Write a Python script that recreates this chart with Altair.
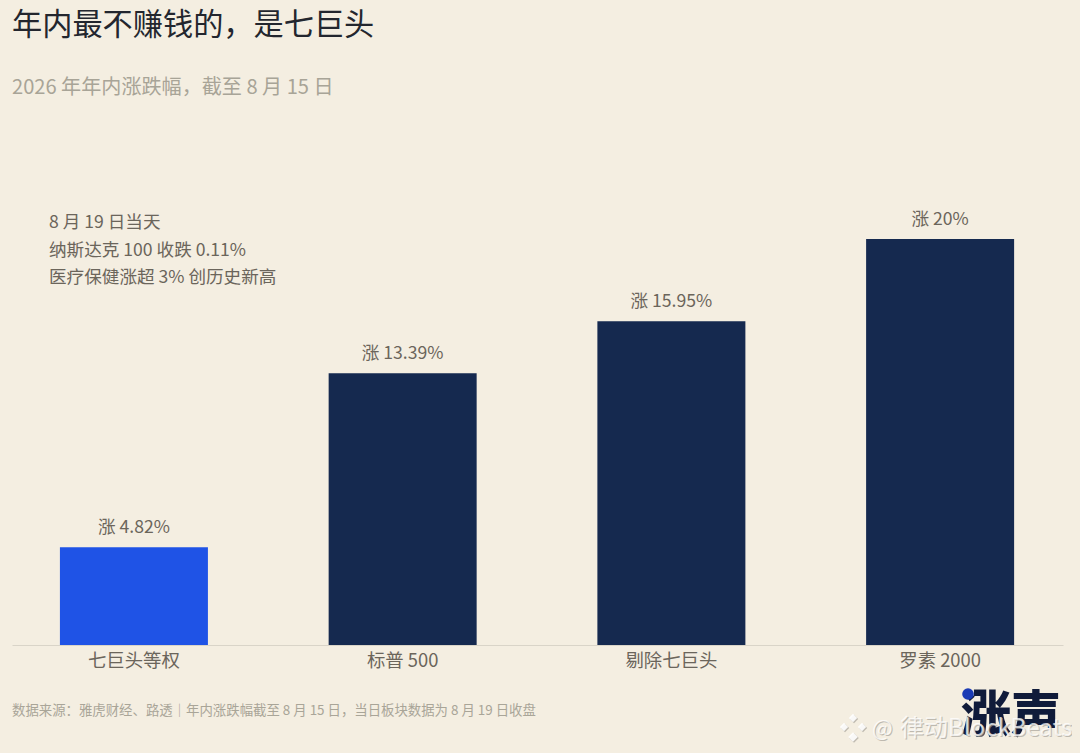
import altair as alt
import pandas as pd

FONT = "Noto Sans CJK SC"
BG = "#F4EEE1"

categories = ["七巨头等权", "标普 500", "剔除七巨头", "罗素 2000"]
values = [4.82, 13.39, 15.95, 20]
value_labels = ["涨 4.82%", "涨 13.39%", "涨 15.95%", "涨 20%"]
bar_colors = ["#1F53E6", "#15294F", "#15294F", "#15294F"]
note_lines = ["8 月 19 日当天", "纳斯达克 100 收跌 0.11%", "医疗保健涨超 3% 创历史新高"]
source_text = "数据来源：雅虎财经、路透｜年内涨跌幅截至 8 月 15 日，当日板块数据为 8 月 19 日收盘"
title_text = "年内最不赚钱的，是七巨头"
subtitle_text = "2026 年年内涨跌幅，截至 8 月 15 日"
logo_text = "涨声"
watermark_text = "律动BlockBeats"

df = pd.DataFrame({"cat": categories, "val": values, "label": value_labels, "color": bar_colors})

x = alt.X("cat:N", sort=categories,
          scale=alt.Scale(paddingInner=0.449, paddingOuter=0.18, align=0.495),
          axis=alt.Axis(title=None, labelAngle=0, labelFont=FONT, labelFontSize=18.4,
                        labelColor="#6B655B", labelPadding=6, ticks=False,
                        domainColor="#D9D4C8", domainWidth=1))
y = alt.Y("val:Q", scale=alt.Scale(domain=[0, 25.37], nice=False), axis=None)

bars = alt.Chart(df).mark_bar(size=148).encode(x=x, y=y, color=alt.Color("color:N", scale=None))
labels = alt.Chart(df).mark_text(font=FONT, fontSize=17.6, color="#6B655B", baseline="bottom", dy=-10).encode(
    x=x, y=y, text="label:N")


def text_at(t, px, py, **kw):
    return alt.Chart(pd.DataFrame({"t": [t]})).mark_text(font=FONT, align=kw.pop("align", "left"), baseline="middle", **kw).encode(
        x=alt.value(px), y=alt.value(py), text="t:N")


notes = [text_at(line, 37, 93 + i * 27.5, fontSize=17.6, color="#6B655B") for i, line in enumerate(note_lines)]
source = text_at(source_text, 0, 581, fontSize=13.4, color="#A9A598")
logo = text_at(logo_text, 949, 587, fontSize=50, fontWeight=900, color="#101B3A")
dot = alt.Chart(pd.DataFrame({"a": [1]})).mark_point(filled=True, size=135, color="#1B3BB5", opacity=1).encode(
    x=alt.value(956), y=alt.value(564))
wm_shadow = text_at(watermark_text, 889, 600, fontSize=24, color="#A8A49B", opacity=0.7)
wm = text_at(watermark_text, 888, 599, fontSize=24, color="#FFFFFF", opacity=0.75)
at_shadow = text_at("@", 861, 600, fontSize=22, color="#A8A49B", opacity=0.7)
at = text_at("@", 860, 599, fontSize=22, color="#FFFFFF", opacity=0.75)
diamond_shadow = alt.Chart(pd.DataFrame({"dx": [842, 833, 851, 842], "dy": [589, 598, 598, 608], "s": [70, 70, 70, 90]})).mark_point(
    shape="diamond", filled=True, color="#A8A49B", opacity=0.7).encode(
    x=alt.X("dx:Q", scale=None), y=alt.Y("dy:Q", scale=None), size=alt.Size("s:Q", scale=None))
diamond = alt.Chart(pd.DataFrame({"dx": [841, 832, 850, 841], "dy": [588, 597, 597, 607], "s": [70, 70, 70, 90]})).mark_point(
    shape="diamond", filled=True, color="#FFFFFF", opacity=0.9).encode(
    x=alt.X("dx:Q", scale=None), y=alt.Y("dy:Q", scale=None), size=alt.Size("s:Q", scale=None))

chart = alt.layer(bars, labels, *notes, source, logo, dot, at_shadow, at, wm_shadow, wm, diamond_shadow, diamond).properties(
    width=1051, height=515, background=BG,
    padding={"left": 4, "top": 122, "right": 9, "bottom": 100},
    autosize=alt.AutoSizeParams(type="none"),
    title=alt.TitleParams(title_text, subtitle=subtitle_text, anchor="start", frame="group",
                          font=FONT, fontSize=30.2, fontWeight="normal", color="#23262E",
                          subtitleFont=FONT, subtitleFontSize=20.1, subtitleColor="#A8A497",
                          subtitlePadding=37, offset=32),
).configure_view(stroke=None)

chart.save("out.html", embed_options={"renderer": "svg", "actions": False, "defaultStyle": "html,body{background:#F4EEE1;}"})
